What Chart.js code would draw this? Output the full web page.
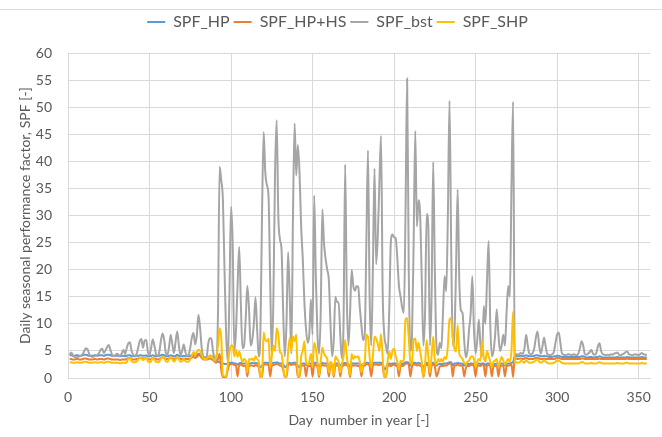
<!DOCTYPE html>
<html>
<head>
<meta charset="utf-8">
<title>Daily SPF</title>
<script src="https://cdn.jsdelivr.net/npm/chart.js@4.4.1/dist/chart.umd.min.js"></script>
<style>
  html, body { margin: 0; padding: 0; background: #fff; }
</style>
</head>
<body>
<canvas id="spf" width="662" height="437"></canvas>
<script>
// valores diarios (día 1..355)
const spfHp = [
  4.2, 4.2, 4.1, 4.1, 4.2, 4.2, 4.1, 4.1, 4.2, 4.3,
  4.3, 4.2, 4.1, 4.1, 4.1, 4.2, 4.2, 4.1, 4.2, 4.2,
  4.2, 4.1, 4.2, 4.3, 4.3, 4.2, 4.1, 4.1, 4.1, 4.1,
  4.1, 4.0, 4.1, 4.1, 4.0, 4.1, 4.2, 4.2, 4.0, 4.0,
  4.0, 4.1, 4.1, 4.2, 4.2, 4.1, 4.1, 4.2, 4.0, 4.0,
  4.1, 4.2, 4.1, 4.0, 4.0, 4.1, 4.2, 4.3, 4.2, 4.0,
  4.0, 4.1, 4.2, 4.1, 4.0, 4.1, 4.3, 4.1, 4.0, 4.0,
  4.1, 4.0, 4.0, 4.0, 4.1, 4.2, 4.3, 4.1, 4.2, 4.5,
  4.4, 4.1, 3.9, 3.8, 3.8, 3.9, 4.0, 4.0, 3.8, 3.5,
  3.2, 3.0, 2.9, 2.8, 2.7, 2.6, 2.6, 2.7, 2.8, 2.8,
  2.8, 2.7, 2.7, 2.5, 2.7, 2.8, 2.7, 2.7, 2.6, 2.2,
  2.7, 2.7, 2.8, 2.7, 2.8, 2.7, 2.6, 2.0, 2.2, 2.8,
  2.8, 2.8, 2.8, 2.5, 2.7, 2.8, 2.8, 2.9, 2.8, 2.7,
  2.7, 2.5, 2.0, 2.2, 2.7, 2.8, 2.7, 2.8, 2.8, 2.8,
  2.2, 2.0, 2.6, 2.7, 2.7, 2.4, 2.6, 2.7, 2.7, 2.3,
  2.8, 2.8, 2.6, 2.0, 2.6, 2.8, 2.7, 2.7, 2.7, 2.3,
  2.7, 2.6, 2.1, 2.7, 2.7, 2.7, 2.3, 2.6, 2.7, 2.8,
  2.7, 2.6, 2.0, 2.7, 2.7, 2.7, 2.7, 2.7, 2.6, 2.2,
  2.6, 2.7, 2.8, 2.8, 2.6, 2.2, 2.7, 2.8, 2.8, 2.8,
  2.8, 2.8, 2.7, 1.6, 1.8, 2.6, 2.7, 2.6, 2.7, 2.7,
  2.7, 2.6, 2.2, 2.7, 2.6, 2.7, 2.9, 2.9, 2.8, 2.3,
  2.6, 2.8, 2.8, 2.7, 2.8, 2.7, 2.6, 1.8, 2.5, 2.8,
  2.7, 2.2, 2.7, 2.8, 2.6, 2.3, 2.5, 2.6, 2.6, 2.6,
  2.7, 2.7, 2.8, 2.9, 2.9, 2.3, 2.7, 2.7, 2.8, 2.7,
  2.7, 2.6, 2.3, 2.5, 2.6, 2.6, 2.7, 2.7, 2.6, 2.2,
  2.6, 2.7, 2.6, 2.7, 2.7, 2.3, 2.7, 2.7, 2.6, 2.2,
  2.6, 2.6, 2.7, 2.3, 2.6, 2.7, 2.6, 2.3, 2.6, 2.7,
  2.7, 2.8, 2.9, 4.1, 4.1, 4.0, 4.1, 4.1, 4.0, 4.1,
  4.2, 4.1, 4.0, 4.0, 4.0, 4.1, 4.2, 4.2, 4.1, 4.0,
  4.0, 4.1, 4.0, 4.0, 3.9, 3.9, 3.9, 4.0, 4.0, 4.1,
  4.1, 4.0, 3.9, 3.9, 3.9, 3.9, 3.9, 3.9, 3.9, 3.9,
  3.9, 3.9, 3.9, 3.9, 4.0, 4.0, 3.9, 3.8, 3.8, 3.9,
  3.9, 3.8, 3.8, 3.9, 3.9, 4.0, 3.9, 3.8, 3.8, 3.8,
  3.8, 3.8, 3.8, 3.8, 3.8, 3.8, 3.9, 3.8, 3.8, 3.8,
  3.8, 3.8, 3.9, 3.8, 3.8, 3.8, 3.8, 3.8, 3.8, 3.8,
  3.8, 3.9, 3.8, 3.8, 3.8
]

const spfHpHs = [
  3.5, 3.5, 3.4, 3.4, 3.5, 3.5, 3.4, 3.4, 3.5, 3.6,
  3.6, 3.5, 3.4, 3.4, 3.4, 3.5, 3.5, 3.4, 3.5, 3.5,
  3.5, 3.4, 3.5, 3.6, 3.6, 3.5, 3.4, 3.4, 3.4, 3.4,
  3.4, 3.3, 3.4, 3.4, 3.4, 3.5, 3.7, 3.7, 3.5, 3.4,
  3.4, 3.5, 3.6, 3.7, 3.7, 3.6, 3.6, 3.7, 3.5, 3.4,
  3.5, 3.7, 3.6, 3.5, 3.4, 3.5, 3.7, 3.8, 3.7, 3.5,
  3.5, 3.6, 3.7, 3.6, 3.5, 3.6, 3.8, 3.6, 3.5, 3.5,
  3.6, 3.5, 3.5, 3.5, 3.6, 3.8, 3.9, 3.7, 3.9, 4.2,
  4.1, 3.7, 3.4, 3.4, 3.4, 3.5, 3.6, 3.5, 3.3, 3.0,
  2.8, 3.5, 4.5, 1.5, 0.2, 0.1, 0.2, 1.5, 2.5, 2.6,
  2.6, 2.4, 2.3, 0.3, 2.4, 2.5, 2.3, 2.2, 2.2, 0.3,
  2.2, 2.3, 2.3, 2.2, 2.4, 2.3, 2.0, 0.2, 0.2, 2.6,
  2.5, 2.5, 2.4, 0.3, 2.2, 2.4, 2.5, 2.6, 2.5, 2.3,
  2.2, 1.5, 0.2, 0.2, 2.4, 2.6, 2.4, 2.5, 2.5, 2.4,
  0.2, 0.2, 2.2, 2.3, 2.3, 0.3, 2.1, 2.2, 2.3, 0.3,
  2.5, 2.4, 2.0, 0.2, 2.1, 2.4, 2.3, 2.3, 2.2, 0.3,
  2.2, 2.1, 0.2, 2.3, 2.3, 2.2, 0.3, 2.1, 2.3, 2.5,
  2.3, 2.0, 0.2, 2.3, 2.3, 2.3, 2.3, 2.2, 2.1, 0.3,
  2.1, 2.3, 2.6, 2.5, 2.2, 0.3, 2.3, 2.5, 2.5, 2.4,
  2.4, 2.6, 2.2, 0.2, 0.2, 2.1, 2.4, 2.2, 2.4, 2.5,
  2.3, 2.1, 0.3, 2.2, 2.2, 2.3, 2.7, 2.7, 2.5, 0.3,
  2.1, 2.5, 2.5, 2.3, 2.4, 2.3, 2.0, 0.2, 2.0, 2.5,
  2.3, 0.3, 2.2, 2.5, 2.2, 0.3, 1.0, 2.1, 2.2, 2.2,
  2.3, 2.3, 2.5, 2.7, 2.7, 0.3, 2.3, 2.3, 2.6, 2.3,
  2.3, 2.2, 0.3, 1.8, 2.2, 2.2, 2.4, 2.4, 2.2, 0.3,
  2.2, 2.3, 2.2, 2.5, 2.3, 0.3, 2.3, 2.4, 2.2, 0.3,
  2.2, 2.2, 2.3, 0.3, 2.1, 2.3, 2.2, 0.3, 2.2, 2.3,
  2.3, 2.6, 0.2, 3.6, 3.6, 3.5, 3.6, 3.6, 3.5, 3.6,
  3.7, 3.6, 3.5, 3.5, 3.5, 3.6, 3.7, 3.7, 3.6, 3.5,
  3.5, 3.6, 3.5, 3.5, 3.5, 3.5, 3.5, 3.5, 3.6, 3.7,
  3.7, 3.6, 3.5, 3.5, 3.5, 3.5, 3.5, 3.5, 3.5, 3.5,
  3.5, 3.5, 3.5, 3.5, 3.6, 3.6, 3.5, 3.5, 3.5, 3.5,
  3.5, 3.5, 3.5, 3.5, 3.5, 3.6, 3.5, 3.5, 3.5, 3.5,
  3.5, 3.5, 3.5, 3.5, 3.5, 3.5, 3.5, 3.5, 3.5, 3.5,
  3.5, 3.5, 3.6, 3.5, 3.5, 3.5, 3.5, 3.5, 3.5, 3.5,
  3.5, 3.5, 3.5, 3.5, 3.5
]

const spfBst = [
  4.3, 4.7, 4.2, 3.9, 3.8, 3.9, 4.0, 4.1, 4.4, 5.0,
  5.5, 5.3, 4.4, 4.0, 3.9, 4.0, 4.1, 4.2, 4.6, 5.2,
  5.4, 4.6, 5.1, 5.7, 6.1, 5.2, 4.3, 4.0, 4.2, 4.5,
  4.3, 4.1, 4.6, 5.2, 4.4, 5.5, 6.4, 6.6, 5.0, 4.3,
  4.1, 4.4, 5.5, 6.8, 7.2, 5.6, 6.9, 7.0, 4.8, 4.3,
  5.6, 7.1, 6.0, 4.4, 4.1, 4.8, 6.9, 8.2, 7.1, 4.6,
  4.3, 5.8, 8.0, 6.2, 4.6, 6.7, 8.6, 6.0, 4.2, 5.0,
  6.2, 4.8, 4.1, 4.3, 5.6, 7.5, 8.3, 6.2, 7.8, 11.7,
  9.3, 5.6, 3.9, 3.6, 3.8, 6.3, 7.4, 7.2, 4.8, 3.6,
  3.2, 12.0, 39.0, 36.5, 33.0, 20.0, 8.0, 3.0, 15.0, 31.6,
  25.0, 5.0, 8.5, 17.0, 24.2, 14.0, 5.5, 6.0, 11.0, 17.0,
  13.0, 6.0, 7.0, 10.0, 14.9, 9.0, 4.0, 8.0, 30.0, 45.4,
  38.0, 35.6, 33.6, 18.0, 4.0, 15.0, 38.0, 47.6, 30.0, 25.6,
  23.6, 12.0, 4.0, 10.0, 23.2, 15.0, 4.5, 30.0, 47.0, 37.4,
  43.0, 38.0, 28.0, 22.0, 14.0, 9.0, 6.5, 8.0, 14.5, 8.0,
  33.7, 18.9, 8.0, 4.5, 12.0, 31.1, 25.0, 22.0, 20.0, 18.0,
  10.0, 4.0, 7.0, 15.0, 14.0, 14.0, 8.0, 3.6, 10.0, 39.4,
  15.0, 6.0, 12.0, 20.0, 17.0, 16.1, 17.0, 16.8, 13.0, 9.6,
  7.0, 8.0, 25.0, 42.0, 15.0, 6.0, 20.0, 38.7, 21.0, 26.0,
  36.0, 44.7, 16.0, 8.0, 6.0, 4.5, 12.0, 25.0, 26.5, 26.0,
  25.8, 22.0, 17.0, 15.0, 13.0, 12.0, 30.0, 55.3, 20.0, 5.0,
  8.0, 25.0, 45.6, 28.0, 32.8, 30.0, 18.0, 6.0, 12.0, 30.3,
  28.0, 6.0, 15.0, 39.9, 20.0, 6.0, 4.3, 6.5, 5.5, 12.0,
  18.8, 16.0, 30.0, 51.2, 25.0, 6.0, 8.0, 20.0, 34.8, 18.0,
  12.5, 12.0, 7.0, 3.8, 5.0, 8.9, 12.0, 18.8, 9.0, 4.5,
  7.0, 10.8, 6.0, 4.0, 13.3, 10.0, 18.0, 25.3, 10.0, 4.0,
  5.0, 8.0, 12.7, 8.0, 5.0, 6.0, 8.0, 6.0, 12.0, 17.0,
  15.0, 35.0, 51.0, 4.2, 4.4, 4.3, 4.5, 4.6, 4.4, 5.5,
  8.0, 6.0, 4.5, 4.4, 4.6, 5.5, 7.5, 8.6, 6.0, 4.5,
  5.8, 7.5, 5.8, 4.4, 4.3, 4.2, 4.4, 4.8, 6.5, 8.0,
  8.4, 6.5, 4.5, 4.3, 4.2, 4.3, 4.4, 4.3, 4.2, 4.4,
  4.3, 4.2, 4.5, 5.5, 6.8, 6.0, 4.4, 4.3, 4.5, 4.8,
  5.2, 4.5, 4.3, 4.6, 5.8, 6.4, 5.0, 4.4, 4.3, 4.2,
  4.3, 4.2, 4.4, 4.3, 4.5, 4.6, 4.7, 4.3, 4.2, 4.4,
  4.5, 4.8, 4.9, 4.4, 4.3, 4.2, 4.3, 4.4, 4.3, 4.2,
  4.4, 4.6, 4.4, 4.3, 4.2
]

const spfShp = [
  2.9, 2.9, 2.8, 2.8, 2.9, 2.9, 2.8, 2.8, 2.9, 3.0,
  3.0, 2.9, 2.8, 2.8, 2.8, 2.9, 2.9, 2.8, 2.9, 2.9,
  2.9, 2.8, 2.9, 3.0, 3.0, 2.9, 2.8, 2.8, 2.8, 2.8,
  2.8, 2.7, 2.8, 2.8, 2.8, 2.9, 3.6, 3.7, 3.1, 2.9,
  2.9, 3.0, 3.4, 3.8, 3.8, 3.3, 3.5, 3.8, 3.1, 2.9,
  3.1, 3.8, 3.4, 3.0, 2.9, 3.0, 3.7, 3.9, 3.8, 3.1,
  3.0, 3.5, 3.9, 3.5, 3.0, 3.4, 3.9, 3.5, 3.0, 3.1,
  3.5, 3.1, 3.0, 3.0, 3.5, 4.2, 4.8, 4.2, 4.8, 5.2,
  5.0, 4.2, 3.6, 3.5, 3.5, 3.8, 4.2, 4.0, 3.6, 3.2,
  4.0, 6.0, 9.2, 7.5, 0.5, 0.3, 0.4, 2.5, 4.8, 6.0,
  6.0, 4.0, 5.2, 3.9, 4.9, 3.9, 3.0, 3.5, 3.2, 1.0,
  3.5, 3.4, 3.6, 3.2, 4.0, 3.5, 3.0, 0.2, 0.2, 8.4,
  7.0, 6.8, 7.3, 2.0, 4.0, 6.0, 5.0, 9.2, 8.0, 4.8,
  4.5, 2.0, 0.2, 0.2, 4.8, 7.4, 5.0, 7.7, 6.8, 8.0,
  0.3, 0.2, 4.0, 5.0, 6.8, 3.0, 2.5, 3.0, 4.5, 2.0,
  6.5, 5.5, 3.0, 0.5, 3.0, 5.6, 4.5, 4.0, 3.5, 1.0,
  3.0, 2.5, 0.5, 4.0, 3.5, 3.0, 1.0, 2.5, 4.0, 7.0,
  4.0, 2.0, 0.5, 4.5, 3.5, 4.0, 3.8, 4.0, 3.0, 1.0,
  2.5, 3.0, 8.0, 7.6, 3.9, 2.0, 4.0, 7.6, 7.3, 6.3,
  5.0, 8.1, 3.9, 0.2, 0.3, 3.0, 4.9, 3.5, 5.0, 5.4,
  4.0, 3.0, 1.5, 3.2, 3.0, 3.5, 10.8, 11.1, 7.4, 3.0,
  2.5, 7.1, 7.3, 5.0, 6.5, 4.9, 3.0, 0.2, 2.5, 7.0,
  4.0, 1.0, 4.0, 7.6, 3.5, 2.5, 3.5, 3.0, 3.5, 3.0,
  3.9, 3.5, 6.0, 10.8, 11.1, 7.4, 5.5, 4.9, 9.8, 4.5,
  3.9, 3.5, 2.8, 2.5, 3.0, 3.2, 3.9, 4.0, 3.5, 2.0,
  3.0, 3.5, 3.2, 6.8, 3.9, 3.0, 5.0, 4.0, 3.0, 2.0,
  3.0, 3.2, 3.5, 2.0, 3.0, 3.9, 3.2, 2.5, 3.0, 3.5,
  3.0, 5.0, 12.3, 2.8, 2.9, 2.8, 2.9, 3.2, 3.0, 2.8,
  3.3, 3.0, 2.8, 2.8, 2.9, 3.0, 3.3, 3.4, 3.0, 2.8,
  3.0, 3.3, 3.0, 2.8, 2.7, 2.7, 2.7, 2.8, 3.0, 3.2,
  3.2, 3.0, 2.8, 2.7, 2.7, 2.7, 2.7, 2.7, 2.7, 2.7,
  2.7, 2.7, 2.7, 2.8, 2.9, 2.9, 2.7, 2.7, 2.7, 2.7,
  2.8, 2.7, 2.7, 2.7, 2.8, 2.9, 2.8, 2.7, 2.7, 2.7,
  2.7, 2.7, 2.7, 2.7, 2.7, 2.7, 2.8, 2.7, 2.7, 2.7,
  2.7, 2.8, 2.8, 2.7, 2.7, 2.7, 2.7, 2.7, 2.7, 2.7,
  2.7, 2.8, 2.7, 2.7, 2.7
]

const days = spfHp.map((_, i) => i + 1)

const textColor = '#595959'
const gridColor = '#d9d9d9'
const fontFamily = 'Lato, "Open Sans", sans-serif'

// línea superior del marco, alto fijo y pequeño corrimiento de la leyenda
const framePlugin = {
  id: 'frame',
  beforeUpdate (chart) {
    const legend = chart.legend
    if (legend && !legend._fixed) {
      const fit = legend.fit
      legend.fit = function () {
        fit.call(this)
        this.height = 43
      }
      legend._fixed = true
    }
  },
  afterUpdate (chart) {
    if (chart.legend) {
      chart.legend.left += 5
      chart.legend.right += 5
    }
  },
  beforeDraw (chart) {
    const ctx = chart.ctx
    ctx.save()
    ctx.fillStyle = '#fff'
    ctx.fillRect(0, 0, chart.width, chart.height)
    ctx.strokeStyle = gridColor
    ctx.lineWidth = 1
    ctx.beginPath()
    ctx.moveTo(0, 9.5)
    ctx.lineTo(chart.width, 9.5)
    ctx.stroke()
    ctx.restore()
  }
}

const serie = (label, values, color, order) => ({
  label,
  data: values,
  borderColor: color,
  backgroundColor: color,
  borderWidth: 2,
  pointRadius: 0,
  pointHoverRadius: 0,
  cubicInterpolationMode: 'monotone',
  fill: false,
  order
})

new Chart(document.getElementById('spf'), {
  type: 'line',
  data: {
    labels: days,
    datasets: [
      serie('SPF_HP', spfHp, '#5b9bd5', 4),
      serie('SPF_HP+HS', spfHpHs, '#ed7d31', 3),
      serie('SPF_bst', spfBst, '#a5a5a5', 2),
      serie('SPF_SHP', spfShp, '#ffc000', 1)
    ]
  },
  options: {
    responsive: false,
    animation: false,
    events: [],
    layout: { padding: { top: 10, left: 13, right: 10, bottom: 4 } },
    plugins: {
      tooltip: { enabled: false },
      legend: {
        position: 'top',
        labels: {
          usePointStyle: true,
          pointStyle: 'line',
          pointStyleWidth: 18,
          padding: 4,
          color: textColor,
          font: { family: fontFamily, size: 16 },
          sort: (a, b) => a.datasetIndex - b.datasetIndex
        }
      }
    },
    scales: {
      x: {
        type: 'linear',
        min: 0,
        max: 357,
        ticks: {
          stepSize: 50,
          includeBounds: false,
          maxRotation: 0,
          padding: 11,
          color: textColor,
          font: { family: fontFamily, size: 14 }
        },
        grid: { color: gridColor, drawTicks: false },
        border: { color: gridColor },
        title: {
          display: true,
          text: 'Day  number in year [-]',
          color: textColor,
          font: { family: fontFamily, size: 14 }
        },
        afterFit: s => { s.height = 55 }
      },
      y: {
        min: 0,
        max: 60,
        ticks: {
          stepSize: 5,
          padding: 16,
          color: textColor,
          font: { family: fontFamily, size: 14 }
        },
        grid: { color: gridColor, drawTicks: false },
        border: { display: false },
        title: {
          display: true,
          text: 'Daily seasonal performance factor, SPF [-]',
          color: textColor,
          font: { family: fontFamily, size: 14 }
        },
        afterFit: s => { s.width = 55 }
      }
    }
  },
  plugins: [framePlugin]
})
</script>
</body>
</html>
